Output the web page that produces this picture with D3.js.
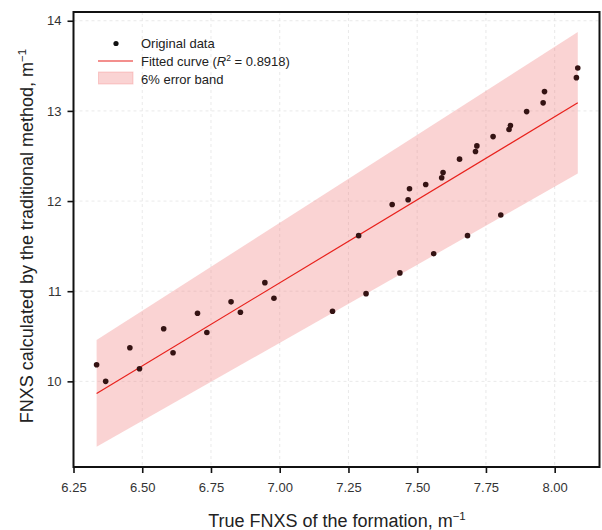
<!DOCTYPE html>
<html>
<head>
<meta charset="utf-8">
<script src="https://cdn.jsdelivr.net/npm/d3@7"></script>
<style>
  html, body { margin: 0; padding: 0; background: #fff; }
  svg { display: block; font-family: "Liberation Sans", Arial, sans-serif; }
</style>
</head>
<body>
<svg id="chart" width="602" height="530"></svg>
<script>
// True FNXS of the formation (m^-1)
const trueFNXS = [
  6.334, 6.367, 6.455, 6.490, 6.578, 6.612, 6.701, 6.735, 6.823, 6.857,
  6.946, 6.979, 7.192, 7.287, 7.314, 7.409, 7.437, 7.467, 7.472, 7.531,
  7.560, 7.589, 7.594, 7.654, 7.683, 7.712, 7.717, 7.776, 7.804, 7.834,
  7.839, 7.898, 7.958, 7.963, 8.079, 8.084
];
// FNXS calculated by the traditional method (m^-1)
const tradFNXS = [
  10.184, 10.000, 10.372, 10.140, 10.583, 10.317, 10.755, 10.542, 10.882, 10.766,
  11.095, 10.921, 10.777, 11.616, 10.973, 11.962, 11.203, 12.014, 12.136, 12.184,
  11.416, 12.258, 12.317, 12.465, 11.616, 12.549, 12.612, 12.715, 11.845, 12.793,
  12.837, 12.992, 13.089, 13.214, 13.369, 13.476
];
// Linear fit y = slope * x + intercept, and relative error band width
const fitSlope = 1.842;
const fitIntercept = -1.801;
const fitR2 = "0.8918";
const bandFraction = 0.06;

const xTicks = [6.25, 6.50, 6.75, 7.00, 7.25, 7.50, 7.75, 8.00];
const yTicks = [10, 11, 12, 13, 14];

const svg = d3.select("#chart");
const plotLeft = 73.5, plotRight = 599.5, plotTop = 12, plotBottom = 467;

const x = d3.scaleLinear().domain([6.25, 8.163]).range([plotLeft, plotRight]);
const y = d3.scaleLinear().domain([9.05, 14.097]).range([plotBottom, plotTop]);

// Dashed grid
const grid = svg.append("g");
grid.selectAll("line.gx").data(xTicks).join("line")
  .attr("x1", d => x(d)).attr("x2", d => x(d))
  .attr("y1", plotTop).attr("y2", plotBottom)
  .attr("stroke", "#e3e3e3").attr("stroke-width", 0.8)
  .attr("stroke-dasharray", "3,3");
grid.selectAll("line.gy").data(yTicks).join("line")
  .attr("x1", plotLeft).attr("x2", plotRight)
  .attr("y1", d => y(d)).attr("y2", d => y(d))
  .attr("stroke", "#e3e3e3").attr("stroke-width", 0.8)
  .attr("stroke-dasharray", "3,3");

// Fitted curve and its error band over the data range
const xMin = d3.min(trueFNXS), xMax = d3.max(trueFNXS);
const fitPts = [xMin, xMax].map(v => ({ x: v, y: fitSlope * v + fitIntercept }));

const band = d3.area()
  .x(d => x(d.x))
  .y0(d => y(d.y * (1 - bandFraction)))
  .y1(d => y(d.y * (1 + bandFraction)));
svg.append("path").datum(fitPts)
  .attr("d", band)
  .attr("fill", "rgba(240,128,128,0.35)");

svg.append("path").datum(fitPts)
  .attr("d", d3.line().x(d => x(d.x)).y(d => y(d.y)))
  .attr("fill", "none").attr("stroke", "#e8211c").attr("stroke-width", 1.2);

// Data points
svg.append("g").selectAll("circle")
  .data(trueFNXS.map((v, i) => ({ x: v, y: tradFNXS[i] })))
  .join("circle")
  .attr("cx", d => x(d.x)).attr("cy", d => y(d.y))
  .attr("r", 2.8)
  .attr("fill", "#341313");

// Axes
const xAxis = svg.append("g").attr("transform", `translate(0,${plotBottom})`)
  .call(d3.axisBottom(x).tickValues(xTicks).tickFormat(d3.format(".2f"))
    .tickSizeInner(6).tickSizeOuter(0).tickPadding(10));
const yAxis = svg.append("g").attr("transform", `translate(${plotLeft},0)`)
  .call(d3.axisLeft(y).tickValues(yTicks).tickFormat(d3.format("d"))
    .tickSizeInner(6).tickSizeOuter(0).tickPadding(6));
[xAxis, yAxis].forEach(a => {
  a.select(".domain").remove();
  a.selectAll(".tick line").attr("stroke", "#111").attr("stroke-width", 1.6);
  a.selectAll(".tick text").attr("fill", "#333").style("font-size", "13px")
    .style("font-family", "'Liberation Sans', Arial, sans-serif");
});

// Frame
svg.append("rect")
  .attr("x", plotLeft).attr("y", plotTop)
  .attr("width", plotRight - plotLeft).attr("height", plotBottom - plotTop)
  .attr("fill", "none").attr("stroke", "#111").attr("stroke-width", 2);

// Axis titles
const xt = svg.append("text")
  .attr("x", 337).attr("y", 527)
  .attr("text-anchor", "middle").attr("fill", "#222")
  .style("font-size", "18px");
xt.append("tspan").text("True FNXS of the formation, m");
xt.append("tspan").attr("dy", -7).style("font-size", "11.5px").text("\u22121");

const yt = svg.append("text")
  .attr("transform", "translate(32.5,236) rotate(-90)")
  .attr("text-anchor", "middle").attr("fill", "#222")
  .style("font-size", "18px");
yt.append("tspan").text("FNXS calculated by the traditional method, m");
yt.append("tspan").attr("dy", -7).style("font-size", "11.5px").text("\u22121");

// Legend
const lg = svg.append("g").style("font-size", "13px");
lg.append("circle").attr("cx", 116).attr("cy", 43.5).attr("r", 2.6).attr("fill", "#111");
lg.append("line").attr("x1", 98).attr("x2", 133).attr("y1", 61).attr("y2", 61)
  .attr("stroke", "#e8211c").attr("stroke-width", 1.2);
lg.append("rect").attr("x", 98.5).attr("y", 72).attr("width", 34.5).attr("height", 12)
  .attr("fill", "rgba(240,128,128,0.35)").attr("stroke", "rgba(240,128,128,0.35)");
lg.append("text").attr("x", 141).attr("y", 48).attr("fill", "#222").text("Original data");
const fitLabel = lg.append("text").attr("x", 141).attr("y", 66).attr("fill", "#222");
fitLabel.append("tspan").text("Fitted curve (");
fitLabel.append("tspan").style("font-style", "italic").text("R");
fitLabel.append("tspan").attr("dy", -5).style("font-size", "8.5px").text("2");
fitLabel.append("tspan").attr("dy", 5).text(" = " + fitR2 + ")");
lg.append("text").attr("x", 141).attr("y", 83.5).attr("fill", "#222").text("6% error band");
</script>
</body>
</html>
